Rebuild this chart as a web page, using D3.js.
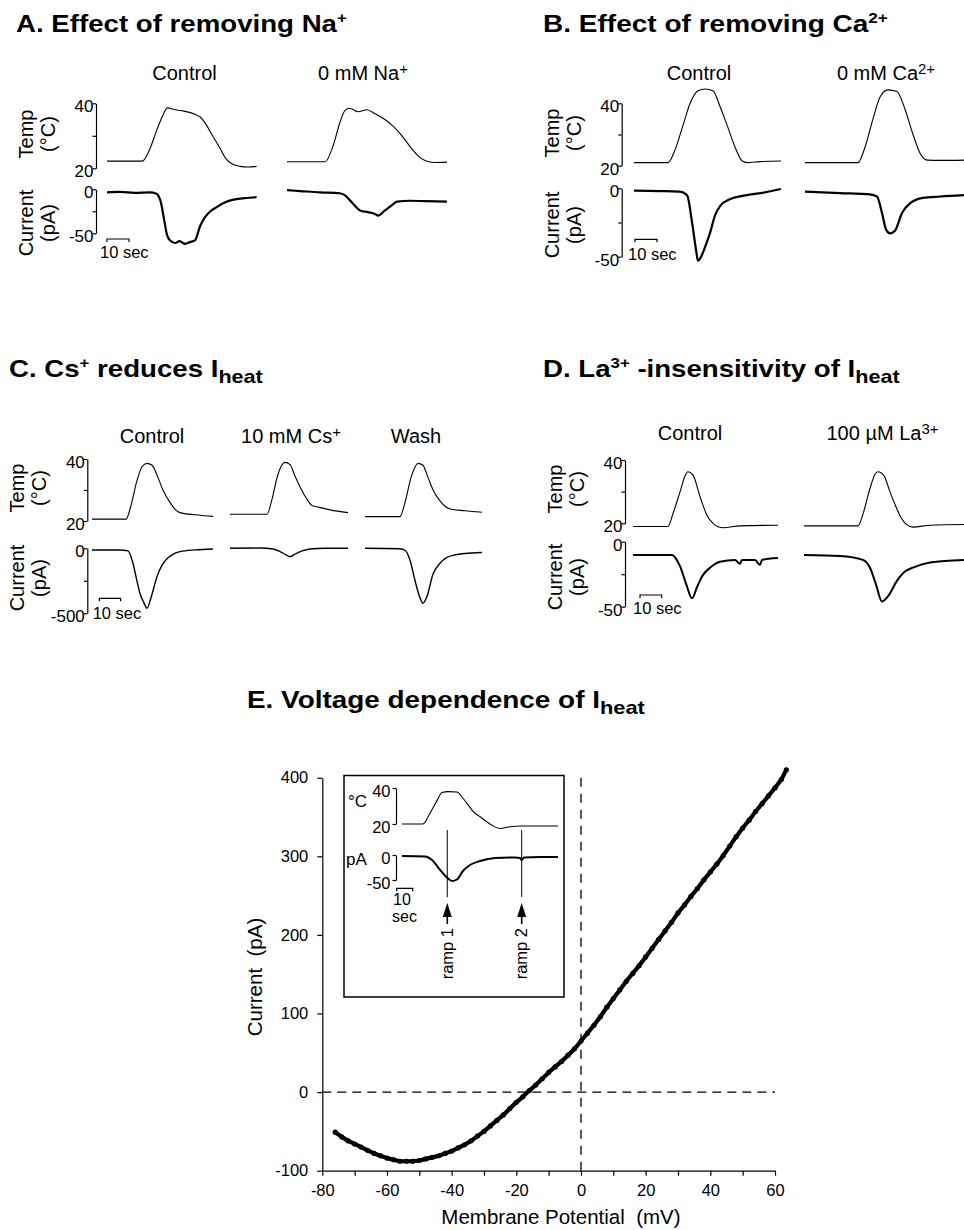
<!DOCTYPE html>
<html>
<head>
<meta charset="utf-8">
<script src="https://cdn.jsdelivr.net/npm/d3@7"></script>
<style>
  body { margin: 0; background: #fff; }
  svg text { font-family: "Liberation Sans", Arial, Helvetica, sans-serif; fill: #000; }
</style>
</head>
<body>
<svg id="fig" width="964" height="1230"></svg>
<script>
// ---------- data: [time (s), value] ----------
// A. removing Na+
let aCtrlTemp = [[0,22.2],[16,22.2],[19.5,26],[22.5,31.5],[25.5,36.5],[27.5,38.6],[31,38.0],[35,37.6],[40,36.6],[42.5,35.7],[45,33.5],[48,30],[51.5,26],[54,23],[57,21.3],[60.5,20.6],[64,20.4],[68,20.6]];
let aCtrlCur = [[0,-3.5],[6,-3],[12.5,-4],[19.5,-3.5],[22.5,-5],[24.5,-15],[26,-35],[27.3,-52],[28.6,-58],[31,-61],[33,-59],[35.5,-62],[37.7,-60],[40,-58],[42.3,-42],[44.5,-32],[47,-25],[50,-20],[53.5,-15],[57,-12],[62.5,-10],[68,-9]];
let aNaTemp = [[0,22],[17.3,22],[21,27],[24,34],[26.4,37.8],[28.6,38.5],[32.3,37.4],[36.4,38],[40,36.8],[44.5,35],[48.2,33],[51.4,30.7],[54.5,28],[57.3,25.5],[60.5,23.3],[63.6,22.2],[67.3,21.8],[72.7,21.9]];
let aNaCur = [[0,-1],[6,-2],[15,-3.5],[24,-4.5],[26.4,-7],[29.5,-15],[33.2,-24],[36.8,-26],[40,-28],[41.4,-30],[44.5,-24],[47.7,-18],[50,-14],[56,-13],[62.7,-13.5],[72.7,-14]];
// B. removing Ca2+
let bCtrlTemp = [[0,21],[15.5,21],[18.6,25],[22.3,33],[25.5,40],[29.1,44],[32.3,44.6],[35.9,44],[39.1,39],[42.3,33],[45.9,26],[49.1,21.6],[51.4,21],[57.3,21.3],[66.8,21.5]];
let bCtrlCur = [[0,-1.7],[11.8,-2],[20.9,-2.5],[24.1,-5],[26.4,-25],[28.2,-45],[29.1,-53],[30.5,-50],[32.3,-43],[34.5,-33],[36.8,-20],[39.1,-13],[43.6,-8],[51.4,-5],[59.5,-3],[66.8,-0.5]];
let bCaTemp = [[0,21],[24.1,21],[27.3,26],[30.9,35],[34.1,42],[37.7,44.3],[41.8,43.8],[45.5,38],[49.1,30],[52.3,24],[55.5,21.8],[61.4,21.7],[72.3,21.8]];
let bCaCur = [[0,-2.5],[15.9,-3.5],[29.5,-4.5],[32.7,-6],[35,-18],[36.8,-30],[38.6,-33],[40.9,-31],[44.1,-18],[47.7,-11],[53.6,-7],[61.4,-6],[72.3,-5]];
// C. Cs+
let cCtrlTemp = [[0,20.6],[16,20.6],[18.3,25],[21.1,33],[23.5,37.5],[25.8,38.6],[28.2,38],[31,34],[33.3,30],[36.6,26],[39.4,23.5],[41.3,22.7],[48.4,22],[56.8,21.5]];
let cCtrlCur = [[0,-13],[13.1,-13],[16.9,-20],[19.2,-113],[21.1,-250],[22.5,-346],[24.4,-420],[25.8,-461],[27.7,-380],[30.5,-218],[32.9,-130],[35.2,-80],[37.6,-50],[41.3,-26],[48.4,-12],[56.8,-5]];
let cCsTemp = [[0,22.2],[17.4,22.2],[19.7,27],[22.5,35],[25.8,38.9],[28.2,38.2],[30.5,34.5],[32.9,31],[35.7,27.5],[38.5,25],[40.8,24.6],[46.9,23.6],[55.4,22.7]];
let cCsCur = [[0,0],[14.1,2],[20.2,-5],[23.5,-25],[26.3,-50],[28.2,-64],[30.5,-45],[33.8,-20],[37.6,-5],[44.6,0],[55.4,0]];
let cWashTemp = [[0,21.4],[16.4,21.4],[18.8,26],[21.6,34],[24.9,38.6],[27.2,38],[29.6,34],[31.9,30.1],[35.2,26.5],[38,24.5],[39.9,23.9],[46.9,23.3],[54.9,22.8]];
let cWashCur = [[0,0],[16.4,-3],[18.8,-15],[21.1,-90],[23.5,-250],[25.8,-380],[27.2,-423],[29.1,-370],[31.9,-200],[35.2,-115],[38.5,-70],[41.3,-54],[46.9,-40],[54.9,-32]];
// D. La3+
let dCtrlTemp = [[0,19],[16.1,19],[18.4,23],[21.7,30],[24,35],[25.3,36.3],[27.6,35.3],[30.9,28.4],[34.1,22.5],[36.9,20],[41.5,18.6],[49.3,19.2],[66.8,19.4]];
let dCtrlCur = [[0,-10.2],[18,-10.2],[19.8,-13],[21.7,-19],[24.4,-32],[27.2,-43.5],[29.5,-35],[31.8,-26.7],[35.5,-20],[40.1,-15.4],[47,-14],[49.3,-17],[50.2,-14],[56.2,-14],[58.5,-18],[59.4,-14],[66.8,-12.6]];
let dLaTemp = [[0,19.2],[24.9,19.2],[27.2,23],[30.4,31],[32.7,35.5],[34.1,36.3],[36.9,35],[39.6,30],[41.9,26],[44.2,22.5],[47.5,19.5],[50.2,18.8],[58.1,19.4],[73.7,19.6]];
let dLaCur = [[0,-10.2],[16.6,-11],[27.2,-14],[30.4,-20],[33.2,-33],[35.9,-46],[38.7,-42],[42.9,-30],[46.5,-23],[50.2,-20],[58.1,-16],[73.7,-14]];
// E inset
let insetTemp = [[0,20],[13.1,20],[17.5,26],[21.9,33],[25,37.5],[28.8,38],[34.4,37.8],[37.5,35],[40.6,31.5],[44.4,27],[48.8,24],[55,20],[61.3,17.5],[67.5,18.5],[73.8,18.9],[97.5,18.9]];
let insetCur = [[0,-2],[14.4,-3],[18.8,-10],[23.8,-30],[28.1,-45],[31.3,-52],[34.4,-49],[38.1,-32],[42.5,-20],[48.8,-12],[58.1,-6],[70.6,-5],[73.8,-6],[74.8,-10],[76.3,-5],[86.3,-4],[97.5,-4]];
let rampTimes = [28.3, 74.8];
let rampLabels = ["ramp 1", "ramp 2"];
// E. I-V relation
let ivV = [-76,-74,-72,-70,-68,-66,-64,-62,-60,-58,-56,-54,-52,-50,-48,-46,-44,-42,-40,-38,-36,-34,-32,-30,-28,-26,-24,-22,-20,-18,-16,-14,-12,-10,-8,-6,-4,-2,0,2,4,6,8,10,12,14,16,18,20,22,24,26,28,30,32,34,36,38,40,42,44,46,48,50,52,54,56,58,60,62,63.5];
let ivI = [-51,-57,-62,-66,-70,-74,-78,-81,-84,-86,-88,-88,-88,-87,-85,-83,-81,-78,-75,-71,-67,-62,-56,-50,-43,-36,-29,-21,-13,-6,2,9,17,25,32,39,47,55,65,75,85,96,108,119,130,141,151,161,172,183,194,205,216,228,238,249,259,270,280,290,301,313,325,336,346,357,367,377,387,398,410];
let ivXTicks = [-80,-70,-60,-50,-40,-30,-20,-10,0,10,20,30,40,50,60];
let ivYTicks = [-100,0,100,200,300,400];

let svg = d3.select("#fig");

//titles: bold, horizontally stretched to the width seen in the figure
function title(parts, left, right, baseline){
    let g = svg.append("g");
    let t = g.append("text").attr("font-size", 23).attr("font-weight", "bold");
    let shift = 0;
    parts.forEach(p => {
        let want = p[1] === "sup" ? -9 : (p[1] === "sub" ? 6 : 0);
        t.append("tspan")
            .attr("dy", want - shift)
            .attr("font-size", p[1] === "sup" ? 14 : (p[1] === "sub" ? 18 : 23))
            .text(p[0]);
        shift = want;
    });
    let w = t.node().getBBox().width;
    g.attr("transform", `translate(${left},${baseline}) scale(${(right - left) / w},1)`);
}

//labels over each trace pair
function caption(parts, cx, baseline){
    let t = svg.append("text").attr("x", cx).attr("y", baseline)
        .attr("text-anchor", "middle").attr("font-size", 20);
    let shift = 0;
    parts.forEach(p => {
        let want = p[1] === "sup" ? -6 : 0;
        t.append("tspan").attr("dy", want - shift)
            .attr("font-size", p[1] === "sup" ? 15 : 20).text(p[0]);
        shift = want;
    });
}

function rotLabel(txt, x, y, size){
    svg.append("text")
        .attr("transform", `translate(${x},${y}) rotate(-90)`)
        .attr("text-anchor", "middle")
        .attr("font-size", size)
        .attr("xml:space", "preserve").style("white-space", "pre")
        .text(txt);
}

function styleAxis(g, size){
    g.selectAll("path,line").attr("stroke", "#000").attr("stroke-width", 1.2);
    g.selectAll("text").attr("font-size", size).attr("font-family", "Liberation Sans, Arial, sans-serif").attr("fill", "#000");
}

//plain hyphen minus like the figure, not the unicode minus
let fmt = d => String(d);

function traceLine(data, xs, ys, width){
    let line = d3.line().x(d => xs(d[0])).y(d => ys(d[1])).curve(d3.curveMonotoneX);
    svg.append("path").datum(data)
        .attr("d", line)
        .attr("fill", "none")
        .attr("stroke", "#000")
        .attr("stroke-width", width)
        .attr("stroke-linejoin", "round");
}

function scaleBar(x, y, len){
    svg.append("path")
        .attr("d", `M${x},${y + 3}V${y}H${x + len}V${y + 3}`)
        .attr("fill", "none").attr("stroke", "#000").attr("stroke-width", 1.2);
}

//panels A-D
let panels = [
    {axisX: 96, temp: [168.3, 103.3], cur: [189.3, 233.3], curMin: -50, pps: 2.2, curW: 2.2,
     traces: [[107, aCtrlTemp, aCtrlCur], [287, aNaTemp, aNaCur]],
     bar: [107, 239], barText: [100, 258], tempY: 134, curY: 223},
    {axisX: 621.7, temp: [165.7, 103.3], cur: [188.3, 256.7], curMin: -50, pps: 2.2, curW: 2.2,
     traces: [[634, bCtrlTemp, bCtrlCur], [805, bCaTemp, bCaCur]],
     bar: [635, 239.3], barText: [628, 260], tempY: 133, curY: 225},
    {axisX: 87.3, temp: [521, 459], cur: [548.3, 613.3], curMin: -500, pps: 2.13, curW: 1.4,
     traces: [[92, cCtrlTemp, cCtrlCur], [230, cCsTemp, cCsCur], [365, cWashTemp, cWashCur]],
     bar: [99.3, 598.3], barText: [92.7, 618.5], tempY: 488, curY: 578},
    {axisX: 625, temp: [523.3, 460], cur: [541.7, 606.7], curMin: -50, pps: 2.17, curW: 2.0,
     traces: [[633, dCtrlTemp, dCtrlCur], [804, dLaTemp, dLaCur]],
     bar: [640, 595], barText: [633, 613.5], tempY: 489, curY: 577}
];

panels.forEach(p => {
    let ty = d3.scaleLinear().domain([20, 40]).range(p.temp);
    let cy = d3.scaleLinear().domain([p.curMin, 0]).range([p.cur[1], p.cur[0]]);

    let ta = svg.append("g").attr("transform", `translate(${p.axisX},0)`)
        .call(d3.axisLeft(ty).tickValues([20, 30, 40]).tickFormat(d => d === 30 ? "" : fmt(d))
            .tickSize(3.5).tickSizeOuter(0).tickPadding(-1));
    let ca = svg.append("g").attr("transform", `translate(${p.axisX},0)`)
        .call(d3.axisLeft(cy).tickValues([p.curMin, p.curMin / 2, 0]).tickFormat(d => d === p.curMin / 2 ? "" : fmt(d))
            .tickSize(3.5).tickSizeOuter(0).tickPadding(-1));
    styleAxis(ta, 17);
    styleAxis(ca, 17);
    ta.selectAll("text").attr("dy", "0.5em");
    ca.selectAll("text").attr("dy", "0.5em");

    rotLabel("Temp", p.axisX - 63, p.tempY, 20);
    rotLabel("(°C)", p.axisX - 41, p.tempY, 20);
    rotLabel("Current", p.axisX - 63, p.curY, 20);
    rotLabel("(pA)", p.axisX - 41, p.curY, 20);

    p.traces.forEach(tr => {
        let dur = d3.max(tr[1].concat(tr[2]), d => d[0]);
        let xs = d3.scaleLinear().domain([0, dur]).range([tr[0], tr[0] + dur * p.pps]);
        traceLine(tr[1], xs, ty, 1.1);
        traceLine(tr[2], xs, cy, p.curW);
    });

    scaleBar(p.bar[0], p.bar[1], 10 * p.pps);
    svg.append("text").attr("x", p.barText[0]).attr("y", p.barText[1]).attr("font-size", 16.5).text("10 sec");
});

title([["A. Effect of removing Na"], ["+", "sup"]], 16, 347, 32);
title([["B. Effect of removing Ca"], ["2+", "sup"]], 543, 888, 32);
title([["C. Cs"], ["+", "sup"], [" reduces I"], ["heat", "sub"]], 9, 263, 377);
title([["D. La"], ["3+", "sup"], [" -insensitivity of I"], ["heat", "sub"]], 543, 900, 377);
title([["E. Voltage dependence of I"], ["heat", "sub"]], 247, 645, 708);

caption([["Control"]], 184.5, 80);
caption([["0 mM Na"], ["+", "sup"]], 363, 80);
caption([["Control"]], 699, 80);
caption([["0 mM Ca"], ["2+", "sup"]], 886, 80);
caption([["Control"]], 152, 443);
caption([["10 mM Cs"], ["+", "sup"]], 291, 443);
caption([["Wash"]], 416, 443);
caption([["Control"]], 690, 440);
caption([["100 µM La"], ["3+", "sup"]], 882.5, 440);

//panel E: I-V curve
let x = d3.scaleLinear().domain([-80, 60]).range([322.3, 775]);
let y = d3.scaleLinear().domain([-100, 400]).range([1170.7, 777.7]);

svg.append("line").attr("x1", x(-80)).attr("x2", x(60)).attr("y1", y(0)).attr("y2", y(0))
    .attr("stroke", "#000").attr("stroke-width", 1.3).attr("stroke-dasharray", "9,6");
svg.append("line").attr("x1", x(0)).attr("x2", x(0)).attr("y1", y(400)).attr("y2", y(-100))
    .attr("stroke", "#000").attr("stroke-width", 1.3).attr("stroke-dasharray", "9,7");

let xa = svg.append("g").attr("transform", `translate(0,${y(-100)})`)
    .call(d3.axisBottom(x).tickValues(ivXTicks).tickFormat(d => d % 20 === 0 ? fmt(d) : "")
        .tickSize(5).tickSizeOuter(0).tickPadding(9));
let ya = svg.append("g").attr("transform", `translate(${x(-80)},0)`)
    .call(d3.axisLeft(y).tickValues(ivYTicks).tickFormat(fmt).tickSize(5).tickSizeOuter(0).tickPadding(9));
styleAxis(xa, 16.5);
styleAxis(ya, 16.5);

let ivData = ivV.map((v, i) => [v, ivI[i]]);
svg.append("path").datum(ivData)
    .attr("d", d3.line().x(d => x(d[0])).y(d => y(d[1])))
    .attr("fill", "none").attr("stroke", "#000").attr("stroke-width", 4.2)
    .attr("stroke-linejoin", "round").attr("stroke-linecap", "round");
svg.append("g").selectAll("circle").data(ivData).enter().append("circle")
    .attr("cx", d => x(d[0])).attr("cy", d => y(d[1])).attr("r", 2.6).attr("fill", "#000");

rotLabel("Current  (pA)", 262, 977, 20.5);
svg.append("text").attr("x", 561).attr("y", 1224).attr("text-anchor", "middle")
    .attr("font-size", 20.5).attr("xml:space", "preserve").style("white-space", "pre")
    .text("Membrane Potential  (mV)");

//inset
svg.append("rect").attr("x", 344).attr("y", 775.5).attr("width", 220).attr("height", 221.5)
    .attr("fill", "#fff").attr("stroke", "#000").attr("stroke-width", 1.5);

let ix = d3.scaleLinear().domain([0, 97.5]).range([402, 558]);
let ity = d3.scaleLinear().domain([20, 40]).range([824, 788]);
let icy = d3.scaleLinear().domain([-50, 0]).range([880, 855]);

let ita = svg.append("g").attr("transform", "translate(396,0)")
    .call(d3.axisLeft(ity).tickValues([20, 40]).tickFormat(fmt).tickSize(3.5).tickSizeOuter(0).tickPadding(2));
let ica = svg.append("g").attr("transform", "translate(396,0)")
    .call(d3.axisLeft(icy).tickValues([-50, 0]).tickFormat(fmt).tickSize(3.5).tickSizeOuter(0).tickPadding(2));
styleAxis(ita, 16.5);
styleAxis(ica, 16.5);
ita.selectAll("text").attr("dy", "0.5em");
ica.selectAll("text").attr("dy", "0.5em");

svg.append("text").attr("x", 348).attr("y", 807).attr("font-size", 17).text("°C");
svg.append("text").attr("x", 346).attr("y", 865).attr("font-size", 17).text("pA");

traceLine(insetTemp, ix, ity, 1.1);
traceLine(insetCur, ix, icy, 2.0);

scaleBar(396.7, 888.3, 16);
svg.append("text").attr("x", 393).attr("y", 905).attr("font-size", 16).text("10");
svg.append("text").attr("x", 392).attr("y", 922).attr("font-size", 16).text("sec");

rampTimes.forEach((t, i) => {
    let rx = ix(t);
    svg.append("line").attr("x1", rx).attr("x2", rx).attr("y1", 830).attr("y2", 897)
        .attr("stroke", "#000").attr("stroke-width", 1);
    svg.append("path").attr("d", `M${rx},903L${rx - 4.5},917L${rx + 4.5},917Z`).attr("fill", "#000");
    svg.append("line").attr("x1", rx).attr("x2", rx).attr("y1", 916).attr("y2", 924)
        .attr("stroke", "#000").attr("stroke-width", 1.6);
    svg.append("text")
        .attr("transform", `translate(${rx + 5.5},928) rotate(-90)`)
        .attr("text-anchor", "end").attr("font-size", 16.5)
        .text(rampLabels[i]);
});
</script>
</body>
</html>
